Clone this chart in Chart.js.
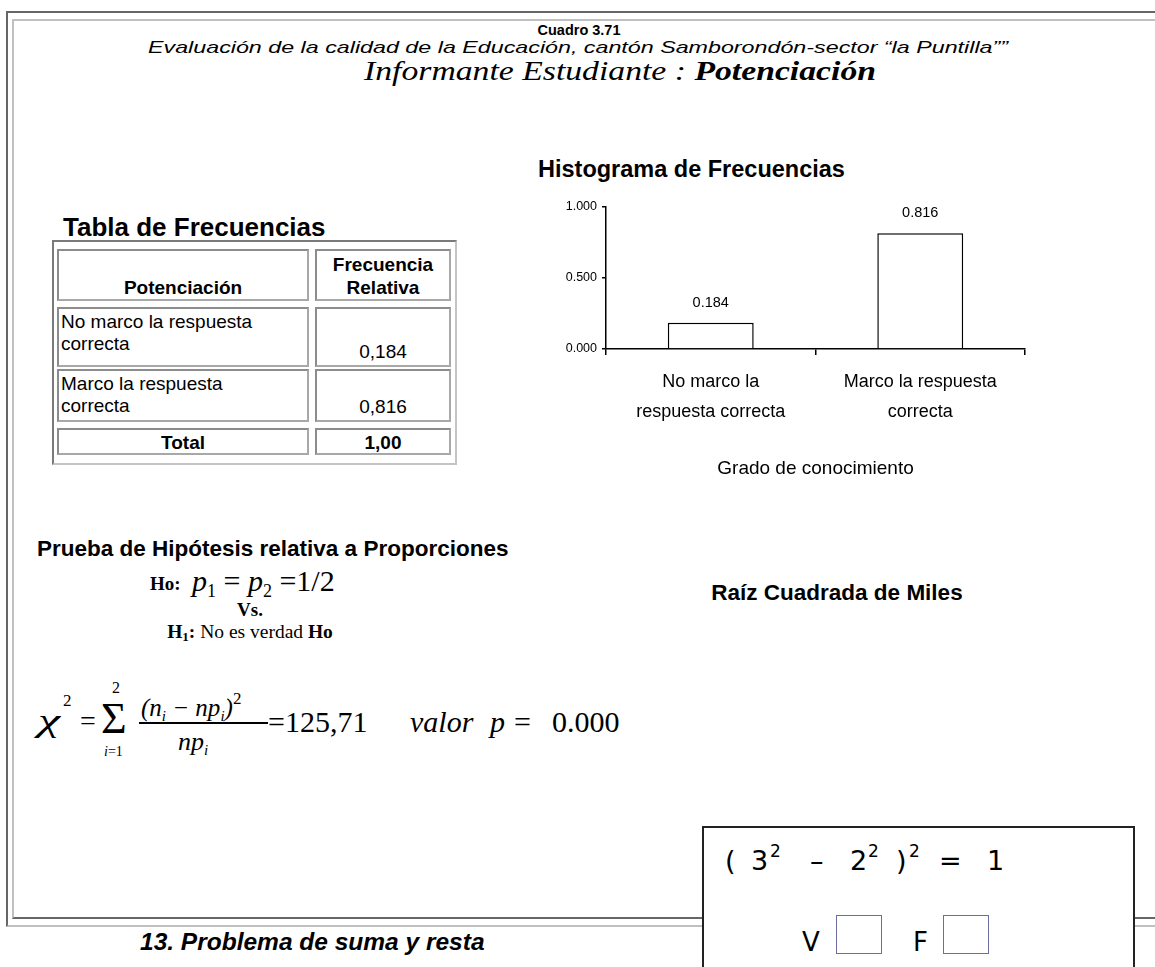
<!DOCTYPE html>
<html>
<head>
<meta charset="utf-8">
<script src="https://cdn.jsdelivr.net/npm/chart.js@4.4.1/dist/chart.umd.min.js"></script>
<style>
body{margin:0;width:1155px;height:967px;overflow:hidden;background:#fff;position:relative;font-family:"Liberation Sans",Arial,sans-serif;color:#000}
.a{position:absolute;white-space:nowrap;line-height:1}
.c{text-align:center}
.serif{font-family:"Liberation Serif","Times New Roman",serif}
.dv{font-family:"DejaVu Sans",Verdana,sans-serif}
.b{font-weight:bold}
.i{font-style:italic}
.fit{transform-origin:0 0}
.cell{position:absolute;box-sizing:border-box;border:2px solid #a8a8a8;border-top-color:#8c8c8c;border-left-color:#8c8c8c;font-size:19px;line-height:1.18}
</style>
</head>
<body>

<!-- frame -->
<div style="position:absolute;left:6px;top:11px;width:1170px;height:916px;box-sizing:border-box;border:2px solid;border-color:#666 #c0c0c0 #c0c0c0 #666"></div>
<div style="position:absolute;left:12px;top:19px;width:1160px;height:900px;box-sizing:border-box;border:2px solid;border-color:#c0c0c0 #666 #666 #c0c0c0"></div>

<!-- header -->
<div class="a c b" style="left:379px;width:400px;top:23px;font-size:14.5px">Cuadro 3.71</div>
<div class="a i fit" data-w="860" style="left:148px;top:39px;font-size:16.5px">Evaluación de la calidad de la Educación, cantón Samborondón-sector “la Puntilla””</div>
<div class="a i serif fit" data-w="512" style="left:364px;top:57px;font-size:28px">Informante Estudiante : <b>Potenciación</b></div>

<!-- titles -->
<div class="a b" style="left:538px;top:158px;font-size:23.5px">Histograma de Frecuencias</div>
<div class="a b" style="left:63px;top:214px;font-size:26px">Tabla de Frecuencias</div>

<!-- table -->
<div style="position:absolute;left:52px;top:240px;width:405px;height:225px;box-sizing:border-box;border:2px solid;border-color:#7a7a7a #c4c4c4 #c4c4c4 #7a7a7a"></div>
<div id="tabla"></div>

<!-- chart -->
<div style="position:absolute;left:540px;top:190px;width:500px;height:300px">
  <canvas id="hist"></canvas>
</div>

<!-- hypothesis test -->
<div class="a b" style="left:37px;top:538px;font-size:22.5px">Prueba de Hipótesis relativa a Proporciones</div>
<div class="a serif b" style="left:150px;top:574px;font-size:19px">Ho:</div>
<div class="a serif" style="left:192px;top:566px;font-size:30px"><i>p</i><span style="font-size:18px;vertical-align:-6px">1</span> = <i>p</i><span style="font-size:18px;vertical-align:-6px">2</span> =1/2</div>
<div class="a c serif b" style="left:200px;width:100px;top:600px;font-size:19px">Vs.</div>
<div class="a c serif" style="left:100px;width:300px;top:622px;font-size:19.5px"><b>H<span style="font-size:13px;vertical-align:-3px">1</span>:</b> No es verdad <b>Ho</b></div>

<div class="a c b" style="left:660px;width:354px;top:582px;font-size:22.5px">Raíz Cuadrada de Miles</div>

<!-- chi-square formula -->
<div class="a serif i fit" data-w="22" style="left:38px;top:705px;font-size:31px">χ</div>
<div class="a serif" style="left:63px;top:692px;font-size:17px">2</div>
<div class="a serif" style="left:80px;top:707px;font-size:28px">=</div>
<div class="a serif" style="left:101px;top:697px;font-size:44px">Σ</div>
<div class="a serif" style="left:112px;top:680px;font-size:16px">2</div>
<div class="a serif" style="left:104px;top:745px;font-size:14px"><i>i</i>=1</div>
<div class="a serif i" style="left:141px;top:690px;font-size:25px">(n<span style="font-size:15px;vertical-align:-5px">i</span> − np<span style="font-size:15px;vertical-align:-5px">i</span>)<span style="font-size:17px;font-style:normal;vertical-align:12px">2</span></div>
<div style="position:absolute;left:139px;top:722px;width:129px;height:1.5px;background:#000"></div>
<div class="a serif i" style="left:178px;top:729px;font-size:26px">np<span style="font-size:15px;vertical-align:-5px">i</span></div>
<div class="a serif" style="left:268px;top:707px;font-size:30px">=125,71</div>
<div class="a serif i" style="left:410px;top:707px;font-size:30px">valor</div>
<div class="a serif i" style="left:490px;top:707px;font-size:30px">p</div>
<div class="a serif" style="left:514px;top:707px;font-size:30px">=</div>
<div class="a serif" style="left:552px;top:707px;font-size:30px">0.000</div>

<!-- bottom -->
<div class="a b i" style="left:140px;top:930px;font-size:24.5px">13. Problema de suma y resta</div>
<div style="position:absolute;left:702px;top:826px;width:433px;height:160px;box-sizing:border-box;border:2px solid #222;background:#fff"></div>
<div class="a dv" style="left:725px;top:847px;font-size:27px">(</div>
<div class="a dv" style="left:751px;top:847px;font-size:27px">3</div>
<div class="a dv" style="left:770px;top:843px;font-size:17px">2</div>
<div class="a dv" style="left:810px;top:847px;font-size:27px">–</div>
<div class="a dv" style="left:850px;top:847px;font-size:27px">2</div>
<div class="a dv" style="left:868px;top:843px;font-size:17px">2</div>
<div class="a dv" style="left:896px;top:847px;font-size:27px">)</div>
<div class="a dv" style="left:909px;top:843px;font-size:17px">2</div>
<div class="a dv" style="left:939px;top:847px;font-size:27px">=</div>
<div class="a dv" style="left:987px;top:847px;font-size:27px">1</div>
<div class="a dv" style="left:802px;top:929px;font-size:26px">V</div>
<div style="position:absolute;left:836px;top:915px;width:46px;height:39px;box-sizing:border-box;border:1.5px solid #6e6e9e"></div>
<div class="a dv" style="left:913px;top:929px;font-size:26px">F</div>
<div style="position:absolute;left:943px;top:915px;width:46px;height:39px;box-sizing:border-box;border:1.5px solid #6e6e9e"></div>

<script>
// data
var categorias = [["No marco la", "respuesta correcta"], ["Marco la respuesta", "correcta"]];
var frecuencias = [0.184, 0.816];
var yTicks = [0, 0.5, 1];

var filasTabla = ["No marco la respuesta<br>correcta", "Marco la respuesta<br>correcta"];
var valoresTabla = ["0,184", "0,816"];
var totalTabla = "1,00";

// stretch some lines to the width they have in the scan
document.querySelectorAll(".fit").forEach(function (el) {
    var w = el.getBoundingClientRect().width;
    el.style.transform = "scaleX(" + (parseFloat(el.dataset.w) / w) + ")";
});

// frequency table
function celda(x, y, w, h, html, estilo) {
    var d = document.createElement("div");
    d.className = "cell";
    d.style.left = x + "px";
    d.style.top = y + "px";
    d.style.width = w + "px";
    d.style.height = h + "px";
    d.style.cssText += estilo || "";
    d.innerHTML = html;
    document.getElementById("tabla").append(d);
}
var flex = "display:flex;flex-direction:column;justify-content:flex-end;";
celda(57, 249, 252, 52, "Potenciación", flex + "text-align:center;font-weight:bold;padding-bottom:0;");
celda(315, 249, 136, 52, "Frecuencia<br>Relativa", flex + "text-align:center;font-weight:bold;padding-bottom:0;");
var filasY = [[307, 60], [369, 53]];
for (let i = 0; i < filasTabla.length; i++) {
    celda(57, filasY[i][0], 252, filasY[i][1], filasTabla[i], "padding:2px 0 0 2px;");
    celda(315, filasY[i][0], 136, filasY[i][1], valoresTabla[i], flex + "text-align:center;padding-bottom:2px;");
}
celda(57, 428, 252, 27, "Total", "text-align:center;font-weight:bold;padding-top:2px;");
celda(315, 428, 136, 27, totalTabla, "text-align:center;font-weight:bold;padding-top:2px;");

// value labels above the bars
var etiquetas = {
    id: "etiquetas",
    afterDatasetsDraw: function (chart) {
        var ctx = chart.ctx;
        var meta = chart.getDatasetMeta(0);
        ctx.save();
        ctx.font = "14.5px 'Liberation Sans', Arial";
        ctx.fillStyle = "#000";
        ctx.textAlign = "center";
        ctx.textBaseline = "middle";
        meta.data.forEach(function (bar, i) {
            ctx.fillText(frecuencias[i].toFixed(3), bar.x, bar.y - 20);
        });
        ctx.restore();
    }
};

new Chart("hist", {
    type: "bar",
    data: {
        labels: categorias,
        datasets: [{
            data: frecuencias,
            backgroundColor: "#fff",
            borderColor: "#000",
            borderWidth: 1.5,
            barPercentage: 0.41,
            categoryPercentage: 1
        }]
    },
    options: {
        responsive: true,
        maintainAspectRatio: false,
        animation: false,
        layout: { padding: { top: 17, right: 15, left: 0, bottom: 0 } },
        plugins: { legend: { display: false }, tooltip: { enabled: false } },
        scales: {
            x: {
                afterFit: function (s) { s.height = 141; },
                grid: { drawOnChartArea: false, color: "#000", tickLength: 6, lineWidth: 1.5 },
                border: { color: "#000", width: 1.5 },
                ticks: { color: "#000", padding: 12, font: { family: "'Liberation Sans', Arial", size: 18, lineHeight: 1.67 } },
                title: {
                    display: true,
                    text: "Grado de conocimiento",
                    color: "#000",
                    font: { family: "'Liberation Sans', Arial", size: 19 },
                    padding: { top: 10, bottom: 10 }
                }
            },
            y: {
                min: 0,
                max: 1,
                afterFit: function (s) { s.width = 66; },
                afterBuildTicks: function (s) { s.ticks = yTicks.map(function (v) { return { value: v }; }); },
                grid: { drawOnChartArea: false, color: "#000", tickLength: 4, lineWidth: 1.5 },
                border: { color: "#000", width: 1.5 },
                ticks: {
                    color: "#000",
                    padding: 5,
                    font: { family: "'Liberation Sans', Arial", size: 12.5 },
                    callback: function (v) { return Number(v).toFixed(3); }
                }
            }
        }
    },
    plugins: [etiquetas]
});
</script>
</body>
</html>
